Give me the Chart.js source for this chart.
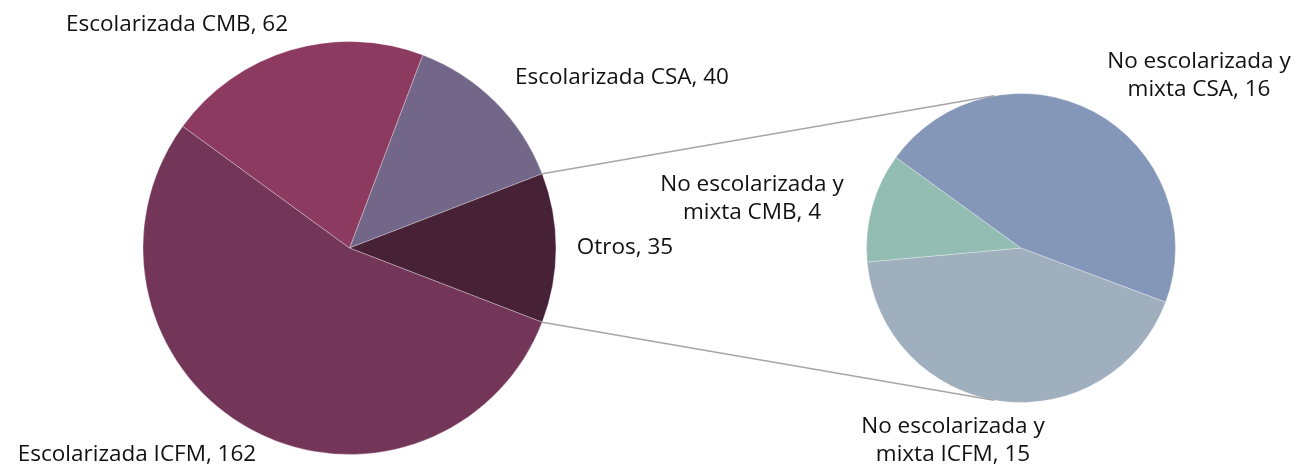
<!DOCTYPE html>
<html>
<head>
<meta charset="utf-8">
<script src="https://cdn.jsdelivr.net/npm/chart.js@4.4.1/dist/chart.umd.min.js"></script>
<style>
    html, body { margin: 0; padding: 0; background: #fff; }
    #wrap { position: relative; width: 1302px; height: 469px; }
    #wrap canvas { position: absolute; left: 0; top: 0; }
</style>
</head>
<body>
<div id="wrap">
    <canvas id="pie-principal" width="1302" height="469"></canvas>
    <canvas id="pie-otros" width="1302" height="469"></canvas>
</div>
<script>
// datos de la grafica
const mainLabels = ['Escolarizada CSA', 'Otros', 'Escolarizada ICFM', 'Escolarizada CMB']
const mainValues = [40, 35, 162, 62]
const mainColors = ['#736789', '#472237', '#743658', '#8c3a5f']

const subLabels = [
    ['No escolarizada y', 'mixta ICFM'],
    ['No escolarizada y', 'mixta CMB'],
    ['No escolarizada y', 'mixta CSA']
]
const subValues = [15, 4, 16]
const subColors = ['#a0afbe', '#93bcb2', '#8497b8']

// posiciones de las etiquetas (centro de cada linea de texto)
const mainLabelPos = [[622, 78], [625, 248], [137, 455], [177, 25]]
const subLabelPos = [[953, 427], [752, 185], [1199, 62]]

const fuente = '22.5px "Open Sans"'
const interlineado = 28

// girar el pie principal para que "Otros" quede centrado a la derecha
const total = mainValues.reduce((a, b) => a + b, 0)
const rotacionPrincipal = 90 - (mainValues[0] + mainValues[1] / 2) / total * 360

function dibujarEtiquetas(chart, lineas, posiciones) {
    const ctx = chart.ctx
    ctx.save()
    ctx.font = fuente
    ctx.fillStyle = '#111'
    ctx.textAlign = 'center'
    ctx.textBaseline = 'middle'
    lineas.forEach((texto, i) => {
        const [x, y] = posiciones[i]
        texto.forEach((t, j) => ctx.fillText(t, x, y + j * interlineado))
    })
    ctx.restore()
}

const mainChart = new Chart(document.getElementById('pie-principal'), {
    type: 'pie',
    data: {
        labels: mainLabels,
        datasets: [{
            data: mainValues,
            backgroundColor: mainColors,
            borderColor: 'rgba(255,255,255,0.3)',
            borderWidth: 1
        }]
    },
    options: {
        responsive: false,
        animation: false,
        rotation: rotacionPrincipal,
        layout: { padding: { left: 142, right: 745, top: 41, bottom: 14 } },
        plugins: { legend: { display: false }, tooltip: { enabled: false } }
    },
    plugins: [{
        id: 'etiquetasPrincipal',
        afterDraw(chart) {
            const lineas = mainLabels.map((l, i) => [l + ', ' + mainValues[i]])
            dibujarEtiquetas(chart, lineas, mainLabelPos)
        }
    }]
})

new Chart(document.getElementById('pie-otros'), {
    type: 'pie',
    data: {
        labels: subLabels.map(l => l.join(' ')),
        datasets: [{
            data: subValues,
            backgroundColor: subColors,
            borderColor: 'rgba(255,255,255,0.3)',
            borderWidth: 1
        }]
    },
    options: {
        responsive: false,
        animation: false,
        rotation: 110.5,
        layout: { padding: { left: 866, right: 126, top: 93, bottom: 66 } },
        plugins: { legend: { display: false }, tooltip: { enabled: false } }
    },
    plugins: [{
        id: 'conectores',
        afterDraw(chart) {
            const ctx = chart.ctx
            const otros = mainChart.getDatasetMeta(0).data[1]
            const sub = chart.getDatasetMeta(0).data[0]
            const desfase = 10 * Math.PI / 180
            const extremos = [
                [otros.startAngle, -Math.PI / 2 - desfase],
                [otros.endAngle, Math.PI / 2 + desfase]
            ]
            ctx.save()
            ctx.strokeStyle = '#a6a6a6'
            ctx.lineWidth = 1.5
            extremos.forEach(([a1, a2]) => {
                ctx.beginPath()
                ctx.moveTo(otros.x + otros.outerRadius * Math.cos(a1), otros.y + otros.outerRadius * Math.sin(a1))
                ctx.lineTo(sub.x + sub.outerRadius * Math.cos(a2), sub.y + sub.outerRadius * Math.sin(a2))
                ctx.stroke()
            })
            ctx.restore()

            const lineas = subLabels.map((l, i) => [l[0], l[1] + ', ' + subValues[i]])
            dibujarEtiquetas(chart, lineas, subLabelPos)
        }
    }]
})
</script>
</body>
</html>
